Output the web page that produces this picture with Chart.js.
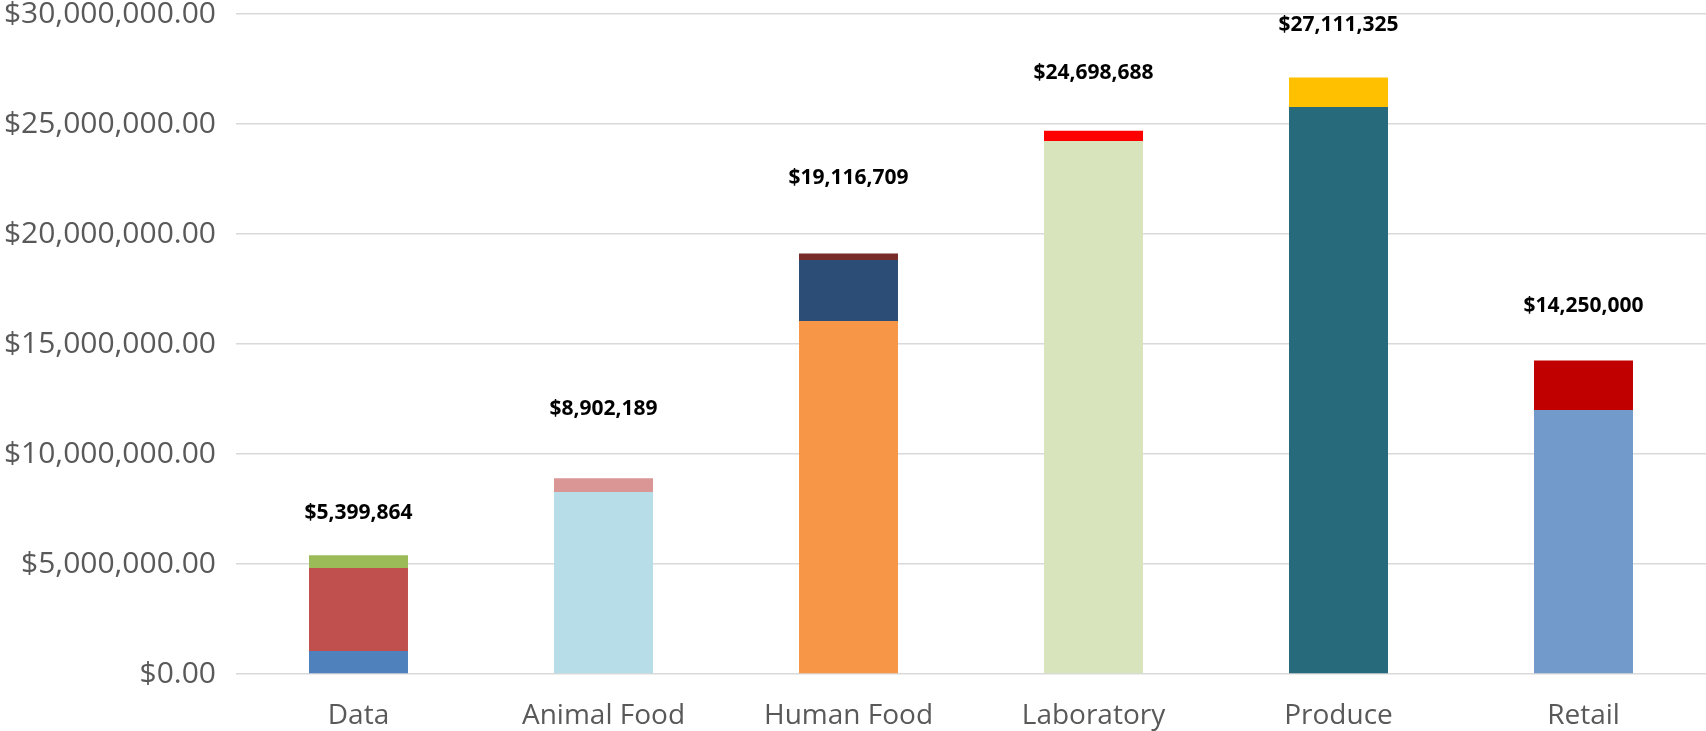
<!DOCTYPE html>
<html>
<head>
<meta charset="utf-8">
<script src="https://cdn.jsdelivr.net/npm/chart.js@4"></script>
<style>
  html, body { margin: 0; padding: 0; background: #fff; }
  #wrap { width: 1706px; height: 731px; }
</style>
</head>
<body>
<div id="wrap"><canvas id="graphic"></canvas></div>
<script>
const categories = ['Data', 'Animal Food', 'Human Food', 'Laboratory', 'Produce', 'Retail'];

// stacked pieces, bottom to top
const baseValues = [1050000, 8270000, 16050000, 24230000, 25770000, 12000000];
const midValues  = [3770000, 632189, 2770000, 468688, 1341325, 2250000];
const topValues  = [579864, 0, 296709, 0, 0, 0];

const baseColors = ['#4F81BD', '#B7DEE8', '#F79646', '#D8E4BC', '#276A7C', '#729ACA'];
const midColors  = ['#C0504D', '#DA9694', '#2C4D75', '#FF0000', '#FFC000', '#C00000'];
const topColors  = ['#9BBB59', '#DA9694', '#772C2A', '#FF0000', '#FFC000', '#C00000'];

// pixel gap between stack top and its total label
const labelGap = [42, 69, 75, 58, 53, 54];

const money0 = v => '$' + Math.round(v).toLocaleString('en-US');
const money2 = v => '$' + Number(v).toLocaleString('en-US', {minimumFractionDigits: 2, maximumFractionDigits: 2});

const totalLabels = {
    id: 'totalLabels',
    afterDatasetsDraw(chart) {
        const ctx = chart.ctx;
        const y = chart.scales.y;
        const x = chart.scales.x;
        ctx.save();
        ctx.font = 'bold 21px "Open Sans"';
        ctx.fillStyle = '#000000';
        ctx.textAlign = 'center';
        ctx.textBaseline = 'middle';
        categories.forEach((c, i) => {
            let total = 0;
            chart.data.datasets.forEach(ds => total += ds.data[i]);
            ctx.fillText(money0(total), x.getPixelForValue(i), y.getPixelForValue(total) - labelGap[i]);
        });
        ctx.restore();
    }
};

let graph = new Chart(document.getElementById('graphic'), {
    type: 'bar',
    data: {
        labels: categories,
        datasets: [
            {data: baseValues, backgroundColor: baseColors},
            {data: midValues, backgroundColor: midColors},
            {data: topValues, backgroundColor: topColors}
        ]
    },
    options: {
        responsive: true,
        maintainAspectRatio: false,
        animation: false,
        categoryPercentage: 1,
        barPercentage: 0.404,
        layout: {padding: {top: 14, right: 0}},
        scales: {
            x: {
                stacked: true,
                grid: {display: false, drawTicks: false},
                border: {display: false},
                ticks: {
                    color: '#595959',
                    padding: 25,
                    font: {family: '"Open Sans"', size: 28}
                },
                afterFit: s => { s.height = 57; s.paddingLeft = 0; s.paddingRight = 0; }
            },
            y: {
                stacked: true,
                min: 0,
                max: 30000000,
                ticks: {
                    stepSize: 5000000,
                    color: '#595959',
                    padding: 20,
                    font: {family: '"Open Sans"', size: 30},
                    callback: v => money2(v)
                },
                grid: {color: '#D9D9D9', lineWidth: 1.5, drawTicks: false},
                border: {display: false},
                afterFit: s => { s.width = 236; s.paddingTop = 0; s.paddingBottom = 0; }
            }
        },
        plugins: {
            legend: {display: false},
            tooltip: {enabled: false}
        }
    },
    plugins: [totalLabels]
});
</script>
</body>
</html>
